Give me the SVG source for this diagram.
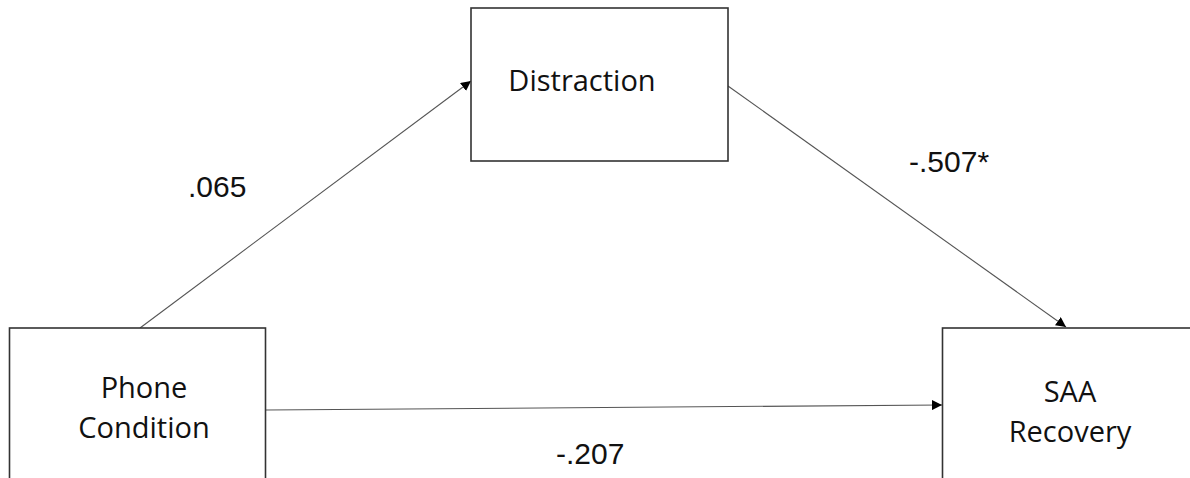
<svg xmlns="http://www.w3.org/2000/svg" width="1190" height="478" viewBox="0 0 1190 478">
<style>
.box{fill:#fff;stroke:#333;stroke-width:1.6}
.lbl{font-family:"Open Sans","Noto Sans",sans-serif;font-size:29px;fill:#111;text-anchor:middle}
.num{font-family:"Liberation Sans",Arial,sans-serif;font-size:30px;fill:#111}
.conn{stroke:#555;stroke-width:1.1;fill:none;marker-end:url(#ah)}
</style>
<defs>
<marker id="ah" viewBox="0 0 10 10" refX="10" refY="5" markerWidth="10" markerHeight="10" markerUnits="userSpaceOnUse" orient="auto">
<path d="M0,0 L10,5 L0,10 z" fill="#000"/>
</marker>
</defs>
<rect width="1190" height="478" fill="#fff"/>
<g id="connectors">
<line class="conn" x1="140" y1="328" x2="471" y2="81"/>
<line class="conn" x1="728" y1="86" x2="1066" y2="327"/>
<line class="conn" x1="266" y1="410" x2="942" y2="405"/>
</g>
<g id="distraction">
<rect class="box" x="471" y="8" width="257" height="153"/>
<text class="lbl" x="582" y="91">Distraction</text>
</g>
<g id="phone">
<rect class="box" x="9.5" y="328" width="256" height="170"/>
<text class="lbl" x="144" y="398">Phone</text>
<text class="lbl" x="144" y="438">Condition</text>
</g>
<g id="saa">
<rect class="box" x="942.5" y="328" width="270" height="170"/>
<text class="lbl" x="1070" y="402">SAA</text>
<text class="lbl" x="1070" y="442">Recovery</text>
</g>
<g id="labels">
<text class="num" x="188" y="197">.065</text>
<text class="num" x="909" y="172">-.507*</text>
<text class="num" x="556" y="464">-.207</text>
</g>
</svg>
